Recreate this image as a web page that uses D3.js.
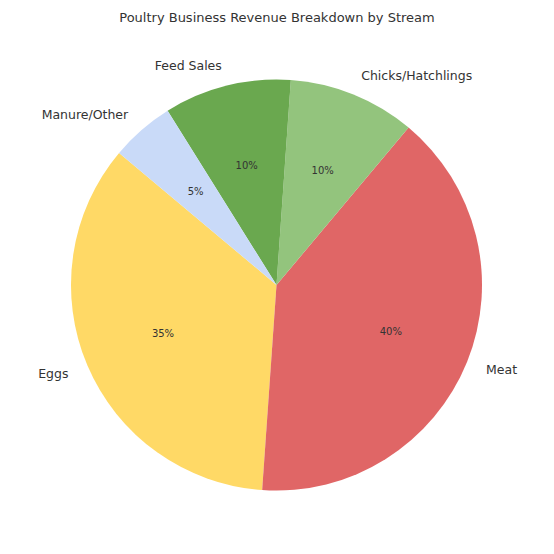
<!DOCTYPE html>
<html>
<head>
<meta charset="utf-8">
<script src="https://cdn.jsdelivr.net/npm/d3@7"></script>
<style>
  body { margin: 0; background: #fff; }
  text { font-family: "DejaVu Sans", sans-serif; }
</style>
</head>
<body>
<svg id="chart" width="554" height="554"></svg>
<script>
// Slice data, counterclockwise from a 140° start angle
const streams = ['Eggs', 'Meat', 'Chicks/Hatchlings', 'Feed Sales', 'Manure/Other'];
const shares = [35, 40, 10, 10, 5];
const colors = ['#FFD966', '#E06666', '#93C47D', '#6AA84F', '#C9DAF8'];

const W = 554, H = 554;
const cx = 276.5, cy = 285, r = 205.5;
const startDeg = 140;

const svg = d3.select('#chart');

svg.append('text')
  .attr('x', W / 2).attr('y', 22)
  .attr('text-anchor', 'middle')
  .attr('font-size', '13px')
  .attr('fill', '#333')
  .text('Poultry Business Revenue Breakdown by Stream');

const total = d3.sum(shares);
let acc = startDeg;
const slices = streams.map((name, i) => {
  const t0 = acc, t1 = acc + shares[i] / total * 360;
  acc = t1;
  return {
    name, value: shares[i], color: colors[i],
    // d3 angles run clockwise from 12 o'clock
    startAngle: (90 - t1) * Math.PI / 180,
    endAngle: (90 - t0) * Math.PI / 180,
    mid: (t0 + t1) / 2 * Math.PI / 180
  };
});

const arc = d3.arc().innerRadius(0).outerRadius(r);
const g = svg.append('g').attr('transform', `translate(${cx},${cy})`);

g.selectAll('path.slice')
  .data(slices)
  .join('path')
  .attr('class', 'slice')
  .attr('d', arc)
  .attr('fill', d => d.color);

// Percent labels at 0.6 r
g.selectAll('text.pct')
  .data(slices)
  .join('text')
  .attr('class', 'pct')
  .attr('x', d => Math.cos(d.mid) * r * 0.6)
  .attr('y', d => -Math.sin(d.mid) * r * 0.6)
  .attr('text-anchor', 'middle')
  .attr('dominant-baseline', 'central')
  .attr('font-size', '10px')
  .attr('fill', '#333')
  .text(d => d.value + '%');

// Category labels at 1.1 r
g.selectAll('text.lbl')
  .data(slices)
  .join('text')
  .attr('class', 'lbl')
  .attr('x', d => Math.cos(d.mid) * r * 1.1)
  .attr('y', d => -Math.sin(d.mid) * r * 1.1)
  .attr('text-anchor', d => Math.cos(d.mid) >= 0 ? 'start' : 'end')
  .attr('dominant-baseline', 'central')
  .attr('font-size', '12.5px')
  .attr('fill', '#333')
  .text(d => d.name);
</script>
</body>
</html>
